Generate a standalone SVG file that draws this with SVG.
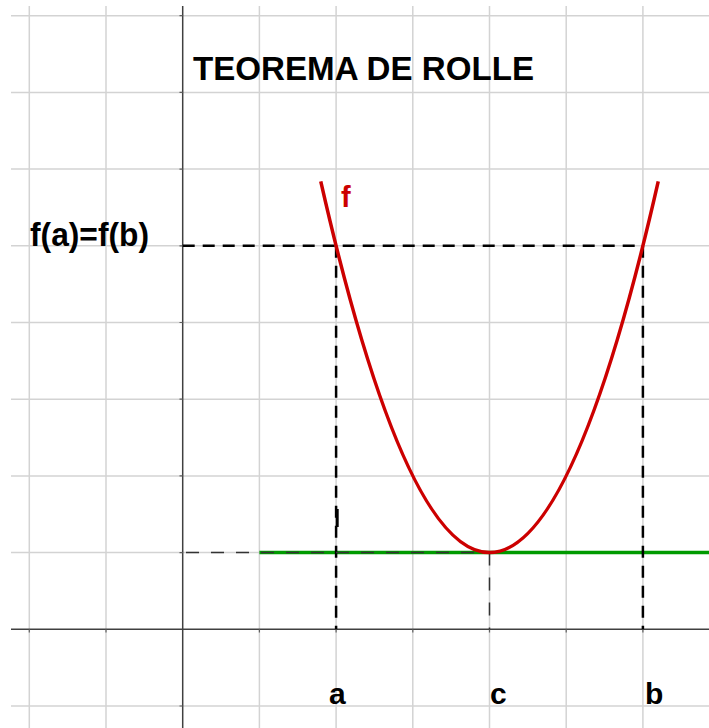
<svg xmlns="http://www.w3.org/2000/svg" width="709" height="728" viewBox="0 0 709 728">
  <style>
    .grid { stroke: #d3d3d3; stroke-width: 1.5; fill: none; }
    .axis { stroke: #404040; stroke-width: 1.5; fill: none; }
    .tick { stroke: #606060; stroke-width: 1.2; }
    .dash { stroke: #000; stroke-width: 2.5; stroke-dasharray: 12 8; fill: none; }
    .dashthin { stroke: #333; stroke-width: 1.5; stroke-dasharray: 13 12; fill: none; }
    .lbl { font-family: "Liberation Sans", Arial, sans-serif; font-weight: bold; fill: #000; }
  </style>
  <rect x="0" y="0" width="709" height="728" fill="#ffffff"/>
  <g id="grid">
    <path class="grid" d="M29.3 6V728 M106 6V728 M259.4 6V728 M336.1 6V728 M412.8 6V728 M489.5 6V728 M566.2 6V728 M642.9 6V728"/>
    <path class="grid" d="M11 15.7H709 M11 92.4H709 M11 169.1H709 M11 245.8H709 M11 322.5H709 M11 399.2H709 M11 475.9H709 M11 552.6H709 M11 706H709"/>
  </g>
  <g id="axes">
    <path class="axis" d="M182.7 6V728 M11 629.3H709"/>
    <path class="tick" d="M179.5 15.7H182.7 M179.5 92.4H182.7 M179.5 169.1H182.7 M179.5 245.8H182.7 M179.5 322.5H182.7 M179.5 399.2H182.7 M179.5 475.9H182.7 M179.5 552.6H182.7 M179.5 706H182.7 M29.3 629.3V632.5 M106 629.3V632.5 M259.4 629.3V632.5 M336.1 629.3V632.5 M412.8 629.3V632.5 M489.5 629.3V632.5 M566.2 629.3V632.5 M642.9 629.3V632.5"/>
  </g>
  <g id="tangent">
    <line x1="259.4" y1="552.6" x2="709" y2="552.6" stroke="#009a00" stroke-width="3.5"/>
  </g>
  <g id="connectors">
    <line class="dash" x1="182.7" y1="245.8" x2="642.9" y2="245.8"/>
    <line class="dash" x1="336.1" y1="245.8" x2="336.1" y2="629.3"/>
    <line class="dash" x1="642.9" y1="245.8" x2="642.9" y2="629.3"/>
    <line class="dashthin" x1="489.5" y1="552.6" x2="489.5" y2="629.3"/>
    <line class="dashthin" x1="186" y1="552.6" x2="489.5" y2="552.6"/>
    <line x1="337.2" y1="509" x2="337.2" y2="527" stroke="#000" stroke-width="3"/>
  </g>
  <g id="curve-f">
    <path d="M320.76 181.4 Q489.5 923.8 658.24 181.4" fill="none" stroke="#cc0000" stroke-width="3.5"/>
    <text class="lbl" x="341" y="207" font-size="29" style="fill:#cc0000">f</text>
  </g>
  <g id="labels">
    <text class="lbl" x="193" y="80" font-size="34" textLength="341" lengthAdjust="spacingAndGlyphs">TEOREMA DE ROLLE</text>
    <text class="lbl" x="30" y="246" font-size="34" textLength="119" lengthAdjust="spacingAndGlyphs">f(a)=f(b)</text>
    <text class="lbl" x="329" y="704" font-size="30">a</text>
    <text class="lbl" x="490" y="704" font-size="30">c</text>
    <text class="lbl" x="645" y="704" font-size="30">b</text>
  </g>
</svg>
